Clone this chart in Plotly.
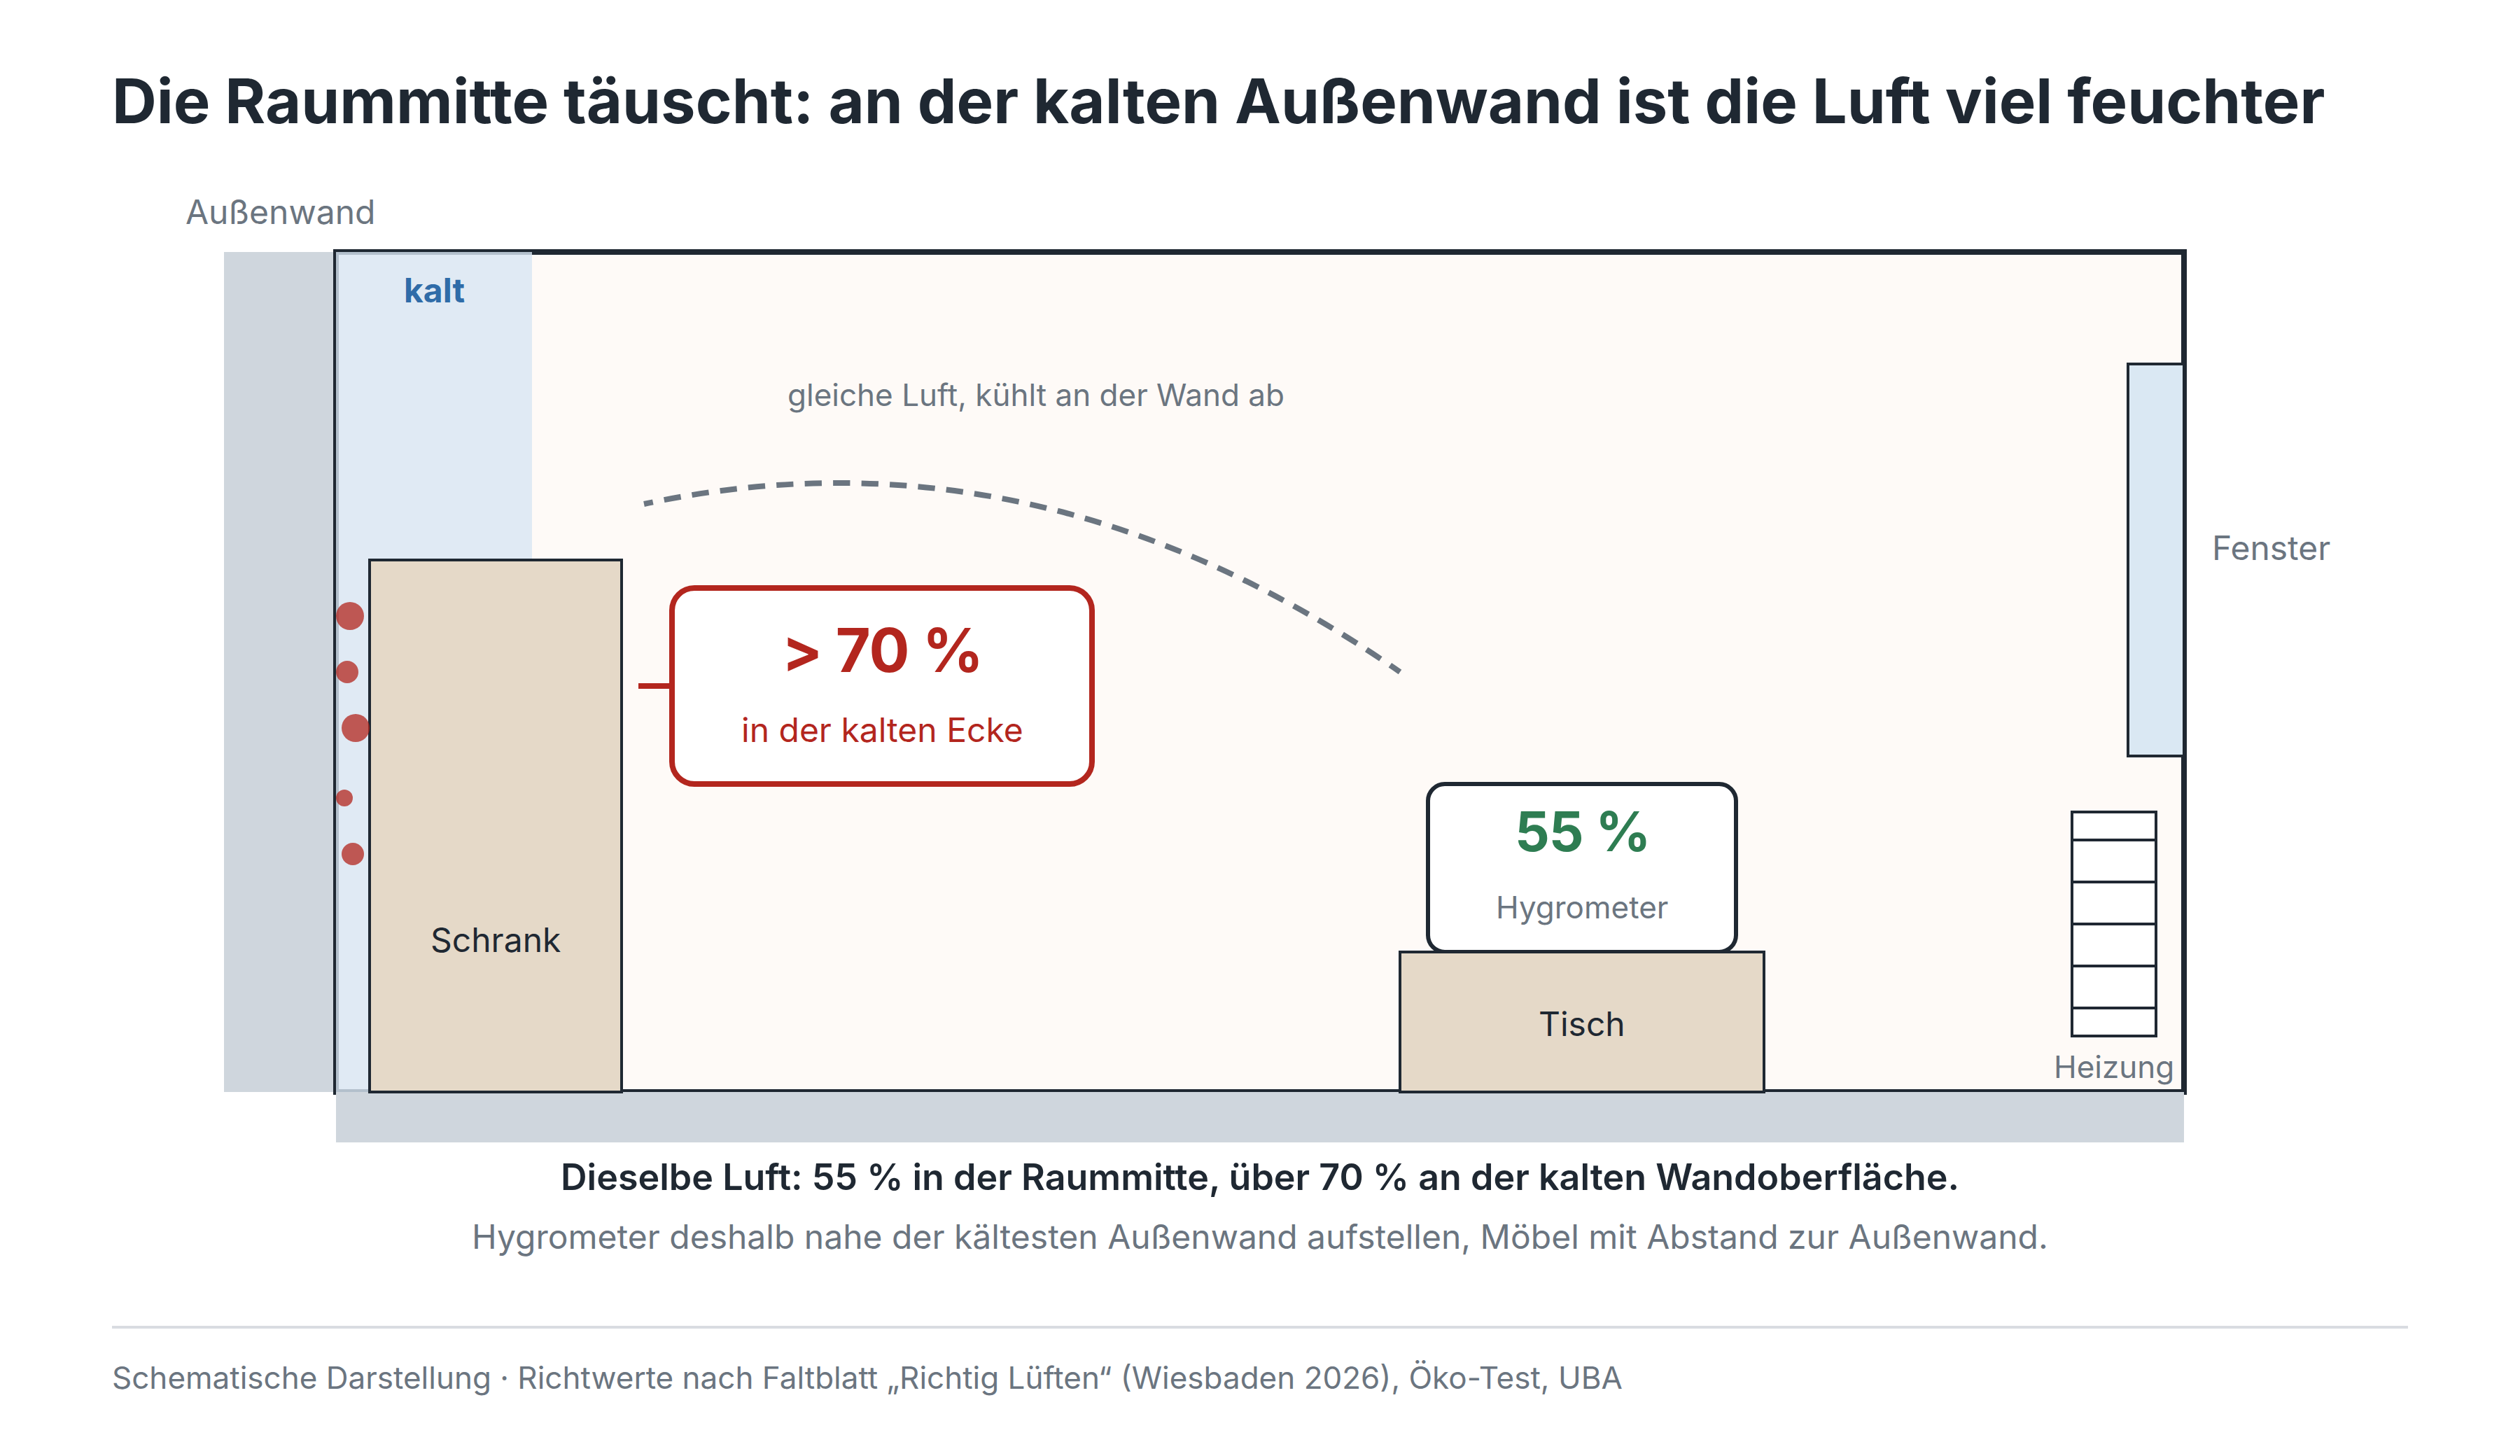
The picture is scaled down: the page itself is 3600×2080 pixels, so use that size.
import plotly.graph_objects as go

# ---------- data: the schematic's elements, in a 3600 x 2080 plan space ----------
WALL_X = [320, 480]
WALL_Y = [360, 1560]
ROOM_X = [480, 3120]
ROOM_Y = [360, 1560]
COLD_X = [480, 760]
COLD_Y = [360, 1560]
FLOOR_X = [480, 3120]
FLOOR_Y = [1560, 1632]
WINDOW_X = [3040, 3120]
WINDOW_Y = [520, 1080]
RADIATOR_X = [2960, 3080]
RADIATOR_Y = [1160, 1480]
RADIATOR_RIBS = [1200, 1260, 1320, 1380, 1440]
CABINET_X = [528, 888]
CABINET_Y = [800, 1560]
TABLE_X = [2000, 2520]
TABLE_Y = [1360, 1560]
CALLOUT_X = [960, 1560]
CALLOUT_Y = [840, 1120]
CONNECTOR_X = [912, 960]
CONNECTOR_Y = [980, 980]
HYGRO_X = [2040, 2480]
HYGRO_Y = [1120, 1360]
RULE_X = [160, 3440]
RULE_Y = [1896, 1896]
DROP_X = [500, 496, 508, 492, 504]
DROP_Y = [880, 960, 1040, 1140, 1220]
DROP_D = [40, 32, 40, 24, 32]
AIR_CURVE = [(920, 720), (1480, 600), (2000, 960)]

TITLE = "Die Raummitte täuscht: an der kalten Außenwand ist die Luft viel feuchter"
INK = "#1f2832"
RED = "#b3261e"
GREY = "#6b7580"
LABELS = [
    # text, x, baseline, size, weight, colour, anchor
    (TITLE, 160, 176, 88.4, 700, INK, "left"),
    ("Außenwand", 400, 320, 48, 400, GREY, "center"),
    ("kalt", 620, 432, 48, 700, "#2f6ca8", "center"),
    ("gleiche Luft, kühlt an der Wand ab", 1480, 580, 44, 400, GREY, "center"),
    ("> 70 %", 1260, 960, 86, 700, RED, "center"),
    ("in der kalten Ecke", 1260, 1060, 48, 400, RED, "center"),
    ("55 %", 2260, 1216, 78, 700, "#2e7d52", "center"),
    ("Hygrometer", 2260, 1312, 44, 400, GREY, "center"),
    ("Schrank", 708, 1360, 48, 400, INK, "center"),
    ("Tisch", 2260, 1480, 48, 400, INK, "center"),
    ("Fenster", 3160, 800, 48, 400, GREY, "left"),
    ("Heizung", 3020, 1540, 44, 400, GREY, "center"),
    ("Dieselbe Luft: 55 % in der Raummitte, über 70 % an der kalten Wandoberfläche.",
     1800, 1700, 52, 600, INK, "center"),
    ("Hygrometer deshalb nahe der kältesten Außenwand aufstellen, Möbel mit Abstand zur Außenwand.",
     1800, 1784, 48, 400, GREY, "center"),
    ("Schematische Darstellung · Richtwerte nach Faltblatt „Richtig Lüften“ (Wiesbaden 2026), Öko-Test, UBA",
     160, 1984, 44, 400, GREY, "left"),
]


def rect(xs, ys, fill, line=None, width=0):
    return dict(type="rect", xref="x", yref="y", layer="below",
                x0=xs[0], x1=xs[1], y0=ys[0], y1=ys[1], fillcolor=fill,
                line=dict(color=line or "rgba(0,0,0,0)", width=width))


def rounded(xs, ys, r, fill, line, width):
    x0, x1, y0, y1 = xs[0], xs[1], ys[0], ys[1]
    k = 0.448 * r
    p = (f"M {x0+r} {y0} L {x1-r} {y0} C {x1-k} {y0} {x1} {y0+k} {x1} {y0+r} "
         f"L {x1} {y1-r} C {x1} {y1-k} {x1-k} {y1} {x1-r} {y1} "
         f"L {x0+r} {y1} C {x0+k} {y1} {x0} {y1-k} {x0} {y1-r} "
         f"L {x0} {y0+r} C {x0} {y0+k} {x0+k} {y0} {x0+r} {y0} Z")
    return dict(type="path", xref="x", yref="y", layer="below", path=p,
                fillcolor=fill, line=dict(color=line, width=width))


def seg(xs, ys, color, width):
    return dict(type="line", xref="x", yref="y", layer="below",
                x0=xs[0], x1=xs[1], y0=ys[0], y1=ys[1],
                line=dict(color=color, width=width))


(p0, c0, p1) = AIR_CURVE
curve = dict(type="path", xref="x", yref="y", layer="below",
             path=f"M {p0[0]} {p0[1]} Q {c0[0]} {c0[1]} {p1[0]} {p1[1]}",
             line=dict(color=GREY, width=8,
                       dash="13px,16.2px," + ",".join(["24.3px,16.2px"] * 27) + ",18px,60px"))

shapes = [
    rect(WALL_X, WALL_Y, "#cfd6dd"),
    rect(ROOM_X, ROOM_Y, "#fefaf7", INK, 8),
    rect(COLD_X, COLD_Y, "rgba(216,230,243,0.8)"),
    rect(FLOOR_X, FLOOR_Y, "#cfd6dd"),
    rect(WINDOW_X, WINDOW_Y, "#dae8f3", INK, 4),
    rect(RADIATOR_X, RADIATOR_Y, "#ffffff", INK, 4),
]
shapes += [seg(RADIATOR_X, [y, y], INK, 4) for y in RADIATOR_RIBS]
shapes += [
    rect(CABINET_X, CABINET_Y, "#e5d9c8", INK, 4),
    seg(CONNECTOR_X, CONNECTOR_Y, RED, 8),
    rounded(CALLOUT_X, CALLOUT_Y, 32, "#ffffff", RED, 8),
    rounded(HYGRO_X, HYGRO_Y, 24, "#ffffff", INK, 6),
    rect(TABLE_X, TABLE_Y, "#e5d9c8", INK, 4),
    curve,
    seg(RULE_X, RULE_Y, "#d9dce1", 4),
]

fig = go.Figure()
fig.add_trace(go.Scatter(
    x=DROP_X, y=DROP_Y, mode="markers", hoverinfo="skip", showlegend=False,
    marker=dict(size=DROP_D, color=RED, opacity=0.75, line=dict(width=0)),
))

annotations = []
for text, x, base, size, weight, color, anchor in LABELS:
    annotations.append(dict(
        text=text, x=x, y=base - 0.364 * size, xref="x", yref="y",
        xanchor=anchor, yanchor="middle", showarrow=False, borderpad=0, borderwidth=0,
        font=dict(family="Inter", size=size, weight=weight, color=color),
    ))

fig.update_layout(
    width=3600, height=2080, margin=dict(l=0, r=0, t=0, b=0),
    paper_bgcolor="#ffffff", plot_bgcolor="#ffffff", showlegend=False,
    xaxis=dict(range=[0, 3600], visible=False, fixedrange=True),
    yaxis=dict(range=[2080, 0], visible=False, fixedrange=True),
    shapes=shapes, annotations=annotations,
)
POST = """
document.body.style.margin='0';
function tighten(){
  document.querySelectorAll('.annotation-text').forEach(function(el){
    var t = el.textContent;
    if (t === '> 70 %' || t === '55 %') { el.style.letterSpacing = '-0.012em'; }
  });
}
tighten(); setTimeout(tighten, 50);
"""
fig.write_html("out.html", config={"displayModeBar": False}, post_script=POST)
